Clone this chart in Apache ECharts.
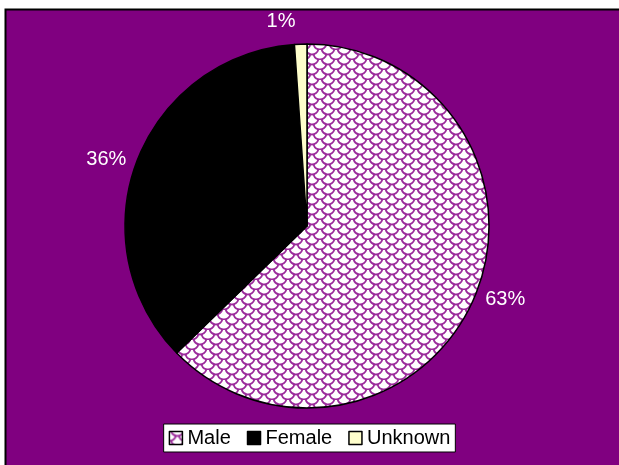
<!DOCTYPE html>
<html><head><meta charset="utf-8">
<script src="https://cdn.jsdelivr.net/npm/echarts@6/dist/echarts.min.js"></script>
<style>html,body{margin:0;padding:0;background:#fff}#c{width:619px;height:465px}</style>
</head><body><div id="c"></div>
<script>
const categories = ['Male', 'Female', 'Unknown'];
const values = [62.7, 36.2, 1.1];
const colors = ['pattern', '#000000', '#FFFFCC'];

function makePattern() {
  const w = 16, h = 10;
  const c = document.createElement('canvas');
  c.width = w; c.height = h;
  const g = c.getContext('2d');
  g.fillStyle = '#ffffff';
  g.fillRect(0, 0, w, h);
  g.strokeStyle = '#9b2b9b';
  g.lineWidth = 1.8;
  // fish-scale rows, offset by half a tile
  const arcs = [[8, -2], [0, 3], [16, 3], [8, 8], [0, 13], [16, 13]];
  arcs.forEach(([x, y]) => {
    g.beginPath();
    g.arc(x, y, 6.5, 0.05 * Math.PI, 0.95 * Math.PI);
    g.stroke();
  });
  return c;
}
const pat = makePattern();

const chart = echarts.init(document.getElementById('c'), null, {renderer: 'canvas'});
const data = categories.map((n, i) => ({
  name: n,
  value: values[i],
  itemStyle: {color: colors[i] === 'pattern' ? {image: pat, repeat: 'repeat'} : colors[i]},
  label: i === 2 ? {offset: [0, -17], align: 'center'} : {}
}));
const FONT = 'Liberation Sans, Arial, sans-serif';
chart.setOption({
  animation: false,
  backgroundColor: '#ffffff',
  graphic: [{
    type: 'rect', z: -10, silent: true,
    shape: {x: 5.5, y: 9.5, width: 640, height: 480},
    style: {fill: '#800080', stroke: '#000000', lineWidth: 2}
  }],
  legend: {
    bottom: 13, left: 'center',
    data: categories,
    icon: 'rect', itemWidth: 13, itemHeight: 13, itemGap: 16,
    backgroundColor: '#ffffff', borderColor: '#000000', borderWidth: 1,
    padding: [4, 5, 4, 5],
    textStyle: {fontFamily: FONT, fontSize: 20, color: '#000'},
    itemStyle: {borderColor: '#000', borderWidth: 1.5}
  },
  series: [{
    type: 'pie',
    center: [307, 226],
    radius: [0, 182],
    startAngle: 90,
    clockwise: true,
    avoidLabelOverlap: false,
    itemStyle: {borderColor: '#000', borderWidth: 1.5},
    label: {
      show: true, position: 'outside', color: '#fff',
      fontFamily: FONT, fontSize: 20,
      formatter: p => Math.round(p.percent) + '%'
    },
    labelLine: {show: false, length: 6, length2: 0},
    emphasis: {disabled: true},
    data: data
  }]
});
</script></body></html>
